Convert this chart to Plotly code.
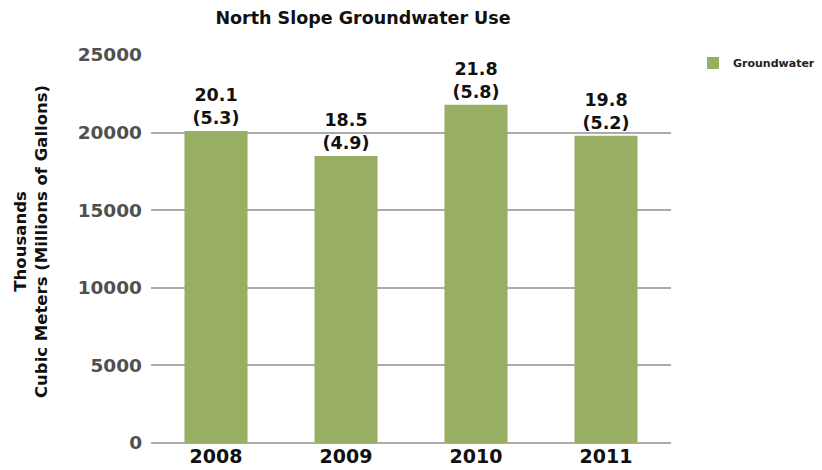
import plotly.graph_objects as go

years = ["2008", "2009", "2010", "2011"]
groundwater = [20100, 18500, 21800, 19800]          # thousand cubic meters
gallons_millions = [5.3, 4.9, 5.8, 5.2]              # millions of gallons
y_ticks = [0, 5000, 10000, 15000, 20000, 25000]

labels = [f"<b>{v/1000:.1f}<br>({g:.1f})</b>" for v, g in zip(groundwater, gallons_millions)]

FONT = "DejaVu Sans"
GREEN = "#97ae63"

# page has an 8px body margin, so the figure is sized to fit inside 822x470
W, H = 814, 462
L, R, T, B = 143, 151, 47, 27
PW = W - L - R

fig = go.Figure()
fig.add_trace(go.Bar(
    x=years, y=groundwater, name="<b>Groundwater</b>",
    marker=dict(color=GREEN, line=dict(width=0)),
    text=labels, textposition="outside", cliponaxis=False,
    textfont=dict(family=FONT, size=17.5, color="#111111"),
))

fig.update_layout(
    width=W, height=H,
    margin=dict(l=L, r=R, t=T, b=B, autoexpand=False),
    paper_bgcolor="white", plot_bgcolor="white",
    bargap=0.515,
    showlegend=True,
    title=dict(text="<b>North Slope Groundwater Use</b>", x=355 / W, xanchor="center",
               y=1 - 4 / H, yanchor="top",
               font=dict(family=FONT, size=17.5, color="#111111")),
    legend=dict(x=(685 - L) / PW, xanchor="left", y=1.017, yanchor="top",
                font=dict(family=FONT, size=11, color="#222222"),
                itemsizing="constant", bgcolor="rgba(0,0,0,0)"),
    font=dict(family=FONT),
)
fig.update_xaxes(
    type="category", range=[-0.5, 3.5],
    tickvals=years, ticktext=[f"<b>{y}</b>" for y in years],
    tickfont=dict(family=FONT, size=19, color="#111111"),
    showgrid=False, showline=False, ticks="",
)
fig.update_yaxes(
    range=[0, 25000], tickvals=y_ticks, ticktext=[f"<b>{t}</b>" for t in y_ticks],
    tickfont=dict(family=FONT, size=18.5, color="#505050"),
    showgrid=True, gridcolor="#ababab", gridwidth=2,
    zeroline=True, zerolinecolor="#ababab", zerolinewidth=2,
    ticks="", ticklabelstandoff=8,
)
fig.add_annotation(
    text="<b>Thousands<br>Cubic Meters (Millions of Gallons)</b>",
    textangle=-90, xref="paper", yref="paper",
    x=(23 - L) / PW, y=0.518, xanchor="center", yanchor="middle",
    showarrow=False, font=dict(family=FONT, size=16.5, color="#111111"),
)

fig.write_html("out.html")
